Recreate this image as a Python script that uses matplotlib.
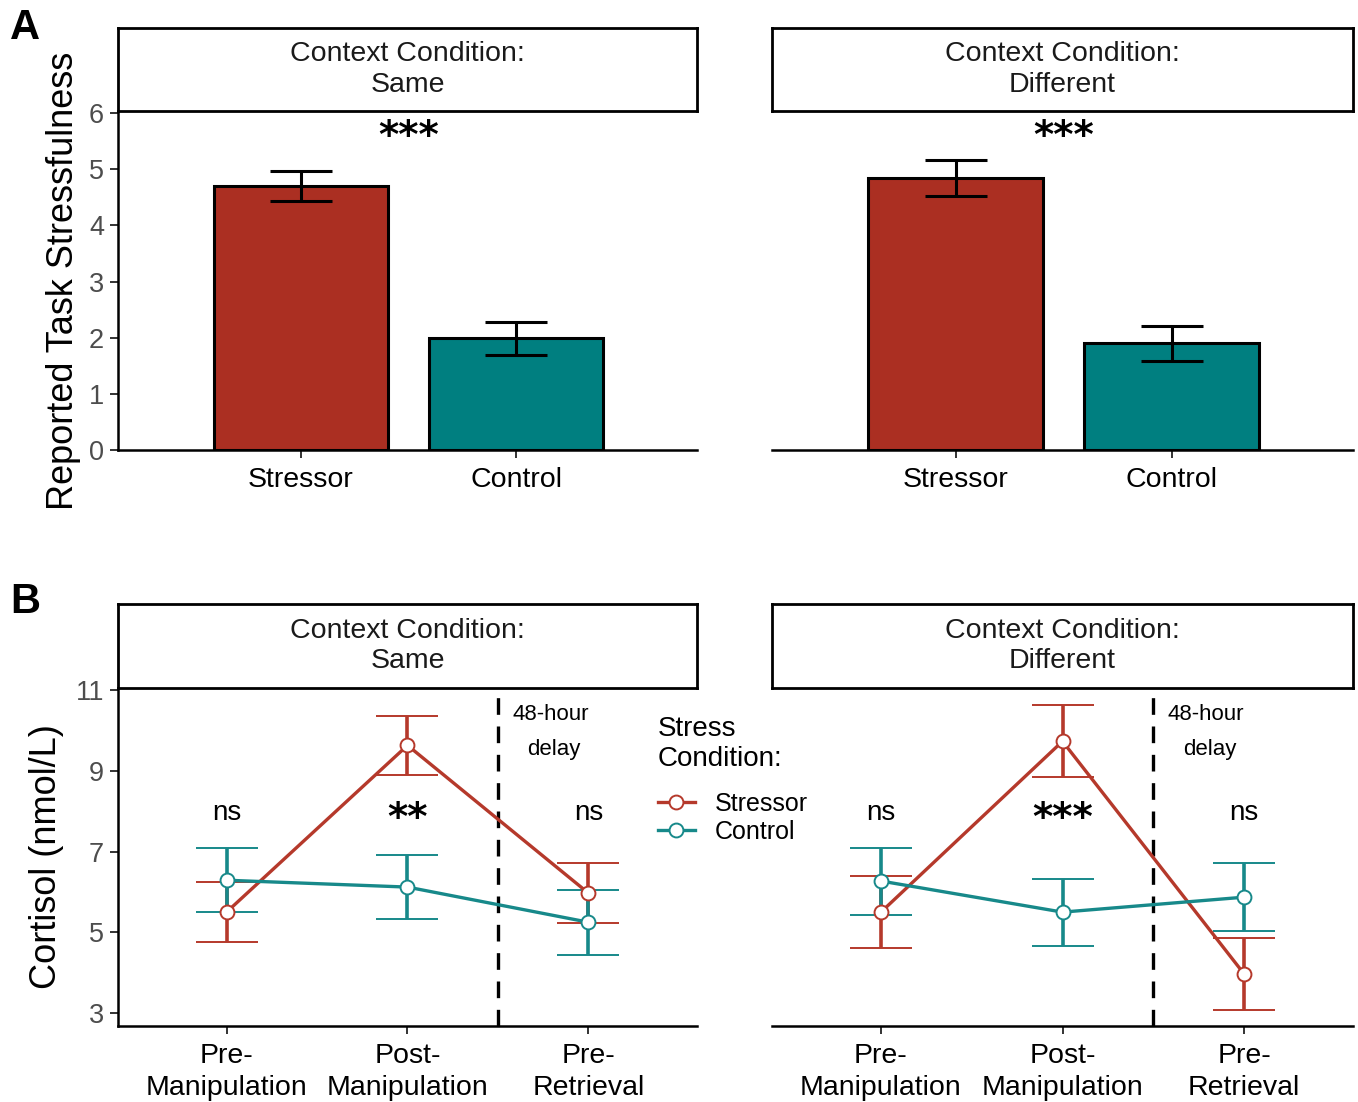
import matplotlib.pyplot as plt
from matplotlib.lines import Line2D

plt.rcParams['font.family'] = ['Liberation Sans', 'DejaVu Sans']

# ---- data ----
contexts = ['Same', 'Different']
stress_groups = ['Stressor', 'Control']

# panel A: reported task stressfulness (mean, SE)
same_rating = [4.70, 1.99]
same_rating_se = [0.27, 0.29]
diff_rating = [4.84, 1.90]
diff_rating_se = [0.32, 0.31]
rating_sig = ['***', '***']

# panel B: cortisol (nmol/L)
timepoints = ['Pre-\nManipulation', 'Post-\nManipulation', 'Pre-\nRetrieval']
same_cort_stressor = [5.50, 9.63, 5.97]
same_cort_stressor_se = [0.74, 0.73, 0.75]
same_cort_control = [6.29, 6.12, 5.25]
same_cort_control_se = [0.79, 0.80, 0.80]
diff_cort_stressor = [5.50, 9.73, 3.97]
diff_cort_stressor_se = [0.89, 0.89, 0.90]
diff_cort_control = [6.27, 5.50, 5.87]
diff_cort_control_se = [0.83, 0.83, 0.84]
same_cort_sig = ['ns', '**', 'ns']
diff_cort_sig = ['ns', '***', 'ns']

bar_red = '#AB2F22'
bar_teal = '#007F80'
line_red = '#B5392B'
line_teal = '#17898A'

W, H = 1358, 1102
fig = plt.figure(figsize=(W / 100, H / 100), dpi=100)


def box(x0, y0, x1, y1):
    # pixel box -> figure fraction rect
    return [x0 / W, 1 - y1 / H, (x1 - x0) / W, (y1 - y0) / H]


def strip(x0, y0, x1, y1, label):
    s = fig.add_axes(box(x0, y0, x1, y1), zorder=5)
    s.set_xticks([])
    s.set_yticks([])
    s.patch.set_alpha(0)
    for sp in s.spines.values():
        sp.set_linewidth(2.0)
    s.text(0.5, 0.5, 'Context Condition:\n' + label, ha='center', va='center',
           fontsize=20.5, color='#1a1a1a', linespacing=1.25, transform=s.transAxes)


def style_axes(ax, show_y):
    ax.spines['top'].set_visible(False)
    ax.spines['right'].set_visible(False)
    ax.spines['bottom'].set_linewidth(1.8)
    ax.spines['left'].set_linewidth(1.8)
    ax.tick_params(axis='x', length=6, width=1.4, colors='#333333', labelsize=20.5,
                   labelcolor='black', pad=6)
    ax.tick_params(axis='y', length=6, width=1.4, colors='#333333', labelsize=19.5,
                   labelcolor='#4D4D4D', pad=4)
    if not show_y:
        ax.spines['left'].set_visible(False)
        ax.tick_params(axis='y', left=False, labelleft=False)


# ---- panel A ----
a_panels = [(118, 697, 'Same', same_rating, same_rating_se),
            (772, 1353, 'Different', diff_rating, diff_rating_se)]
for i, (x0, x1, lab, vals, se) in enumerate(a_panels):
    ax = fig.add_axes(box(x0, 111, x1, 450))
    strip(x0, 28, x1, 111, lab)
    ax.bar([1, 2], vals, width=0.81, color=[bar_red, bar_teal], edgecolor='black',
           linewidth=2.2, zorder=2)
    ax.errorbar([1, 2], vals, yerr=se, fmt='none', ecolor='black', elinewidth=2.2,
                capsize=22, capthick=2.2, zorder=3)
    ax.text(1.5, 5.58, rating_sig[i], ha='center', va='center', fontsize=28,
            fontweight='bold', family='DejaVu Sans')
    ax.set_xlim(0.15, 2.84)
    ax.set_ylim(0, 6.04)
    ax.set_yticks(range(0, 7))
    ax.set_xticks([1, 2])
    ax.set_xticklabels(stress_groups)
    style_axes(ax, i == 0)
    if i == 0:
        ax.set_ylabel('Reported Task Stressfulness', fontsize=26, labelpad=6)

# ---- panel B ----
b_panels = [(118, 697, 'Same', same_cort_stressor, same_cort_stressor_se,
             same_cort_control, same_cort_control_se, same_cort_sig),
            (772, 1353, 'Different', diff_cort_stressor, diff_cort_stressor_se,
             diff_cort_control, diff_cort_control_se, diff_cort_sig)]
xs = [1, 2, 3]
for i, (x0, x1, lab, s_m, s_se, c_m, c_se, sig) in enumerate(b_panels):
    ax = fig.add_axes(box(x0, 688, x1, 1026))
    strip(x0, 604, x1, 688, lab)
    for m, se, col in [(s_m, s_se, line_red), (c_m, c_se, line_teal)]:
        ax.errorbar(xs, m, yerr=se, color=col, elinewidth=2.6, capsize=22, capthick=2.6,
                    lw=2.4, marker='o', ms=10, mfc='white', mec=col, mew=1.4, zorder=3)
    ax.axvline(2.5, color='black', lw=2.4, ls=(0, (5, 3.5)), zorder=2)
    ax.text(2.58, 10.4, '48-hour', ha='left', va='center', fontsize=16)
    ax.text(2.81, 9.53, 'delay', ha='center', va='center', fontsize=16)
    for x, t in zip(xs, sig):
        if t == 'ns':
            ax.text(x, 7.95, t, ha='center', va='center', fontsize=20)
        else:
            ax.text(x, 7.8, t, ha='center', va='center', fontsize=28,
                    fontweight='bold', family='DejaVu Sans')
    ax.set_xlim(0.4, 3.6)
    ax.set_ylim(2.68, 11.05)
    ax.set_yticks([3, 5, 7, 9, 11])
    ax.set_xticks(xs)
    ax.set_xticklabels(timepoints, linespacing=1.3)
    style_axes(ax, i == 0)
    if i == 0:
        ax.set_ylabel('Cortisol (nmol/L)', fontsize=26, labelpad=8)

# legend sits between the two B panels
handles = [Line2D([], [], color=line_red, lw=2.4, marker='o', ms=10, mfc='white',
                  mec=line_red, mew=1.4),
           Line2D([], [], color=line_teal, lw=2.4, marker='o', ms=10, mfc='white',
                  mec=line_teal, mew=1.4)]
leg = fig.legend(handles, stress_groups, title='Stress\nCondition:', loc='upper left',
                 bbox_to_anchor=(640 / W, 1 - 698 / H), frameon=False, fontsize=18,
                 title_fontsize=20, handlelength=1.5, handletextpad=0.8,
                 labelspacing=0.15, borderpad=0.2)
leg._legend_box.align = 'left'
leg._legend_box.sep = 14
leg.get_title().set_linespacing(1.25)

fig.text(10 / W, 1 - 8 / H, 'A', fontsize=30, fontweight='bold', va='top')
fig.text(10 / W, 1 - 582 / H, 'B', fontsize=30, fontweight='bold', va='top')

fig.savefig('out.png', dpi=100)
